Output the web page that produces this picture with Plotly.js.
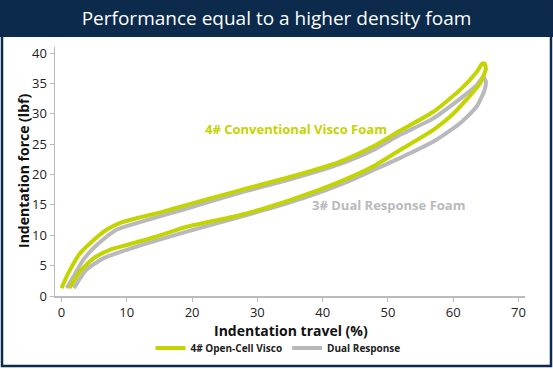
<!DOCTYPE html>
<html>
<head>
<meta charset="utf-8">
<script src="https://cdn.plot.ly/plotly-3.0.1.min.js"></script>
<style>html,body{margin:0;padding:0;background:#fff;}#chart{width:553px;height:369px;}</style>
</head>
<body>
<div id="chart"></div>
<script>
// Data
const viscoTravel = [0.0, 0.6, 1.3, 2.8, 4.9, 6.9, 8.9, 11.5, 15.6, 19.2, 27.3, 35.0, 42.6, 47.7, 51.8, 56.9, 61.0, 63.6, 64.4, 64.8, 65.0, 64.8, 64.1, 62.0, 59.5, 56.9, 51.8, 47.7, 42.6, 35.0, 27.3, 19.2, 14.6, 10.0, 7.4, 4.9, 2.8, 1.2];
const viscoForce  = [1.3, 2.8, 4.3, 7.0, 9.2, 10.9, 12.0, 12.8, 13.9, 15.0, 17.4, 19.6, 22.1, 24.6, 27.2, 30.3, 33.9, 36.9, 38.2, 38.3, 37.4, 36.7, 35.0, 32.3, 29.5, 27.3, 24.0, 21.3, 18.8, 15.8, 13.3, 11.4, 9.8, 8.4, 7.6, 6.2, 4.0, 1.3];
const dualTravel = [0.8, 2.0, 3.3, 5.4, 8.4, 11.5, 18.6, 27.3, 35.0, 42.6, 47.7, 51.8, 56.9, 60.5, 63.6, 64.6, 65.0, 64.8, 63.6, 61.0, 56.9, 51.8, 47.7, 42.6, 35.0, 27.3, 19.2, 10.0, 6.4, 3.8, 1.9];
const dualForce  = [1.3, 3.5, 5.9, 8.4, 10.9, 12.0, 14.2, 17.0, 19.2, 21.7, 24.0, 26.5, 29.2, 32.0, 34.7, 36.1, 35.3, 33.9, 31.2, 28.4, 25.4, 22.7, 20.7, 18.3, 15.4, 13.0, 10.6, 7.6, 6.2, 4.3, 1.3];
const seriesNames = ["4# Open-Cell Visco", "Dual Response"];
const xTicks = [0, 10, 20, 30, 40, 50, 60, 70];
const yTicks = [0, 5, 10, 15, 20, 25, 30, 35, 40];
const xTitle = "Indentation travel (%)";
const yTitle = "Indentation force (lbf)";
const labelVisco = "4# Conventional Visco Foam";
const labelDual = "3# Dual Response Foam";

const GREEN = "#c3d400", GRAY = "#b9b9bd", NAVY = "#0c2a4b";
const W = 553, H = 369, M = {l: 55, r: 28, t: 47, b: 73};
const pw = W - M.l - M.r, ph = H - M.t - M.b;
const fx = px => (px - M.l) / pw;
const fy = py => (H - M.b - py) / ph;
const FONT = "Open Sans, Lato, sans-serif";

const traces = [
  {x: dualTravel, y: dualForce, name: seriesNames[1], mode: "lines", line: {color: GRAY, width: 4, shape: "spline", smoothing: 0.6}},
  {x: viscoTravel, y: viscoForce, name: seriesNames[0], mode: "lines", line: {color: GREEN, width: 4, shape: "spline", smoothing: 0.6}}
];

const layout = {
  width: W, height: H,
  margin: M,
  paper_bgcolor: "#fff", plot_bgcolor: "#fff",
  font: {family: FONT, color: "#222"},
  title: {text: "Performance equal to a higher density foam", font: {family: FONT, size: 19, color: "#fff"}, x: 0.5, xref: "container", xanchor: "center", y: 1 - 18.5 / H, yref: "container", yanchor: "middle"},
  showlegend: true,
  legend: {orientation: "h", traceorder: "reversed", xref: "container", x: 278 / W, xanchor: "center", yref: "container", y: 1 - 348 / H, yanchor: "middle", font: {family: FONT, size: 10, color: "#222", weight: "bold"}, itemwidth: 30, bgcolor: "rgba(0,0,0,0)"},
  xaxis: {range: [-1, 71], tickvals: xTicks, ticks: "outside", ticklen: 4, tickcolor: "#bbb", showline: true, linecolor: "#bbb", linewidth: 1.5, showgrid: false, zeroline: false, automargin: false,
    tickfont: {size: 13, color: "#222"}},
  yaxis: {range: [0, 41], tickvals: yTicks, ticks: "outside", ticklen: 4, tickcolor: "#bbb", showline: true, linecolor: "#bbb", linewidth: 1.5, showgrid: false, zeroline: false, automargin: false,
    tickfont: {size: 13, color: "#222"}},
  shapes: [
    {type: "rect", xref: "paper", yref: "paper", x0: fx(0), x1: fx(W), y0: fy(37), y1: fy(0), fillcolor: NAVY, line: {width: 0}, layer: "below"},
    {type: "rect", xref: "paper", yref: "paper", x0: fx(2), x1: fx(551), y0: fy(366), y1: fy(2), fillcolor: "rgba(0,0,0,0)", line: {color: NAVY, width: 2.5}, layer: "above"}
  ],
  annotations: [
    {x: fx(291), y: fy(330), xref: "paper", yref: "paper", text: xTitle, showarrow: false, xanchor: "center", yanchor: "middle", font: {size: 14, color: "#111", weight: "bold"}},
    {x: fx(23), y: fy(171), xref: "paper", yref: "paper", text: yTitle, showarrow: false, textangle: -90, xanchor: "center", yanchor: "middle", font: {size: 14, color: "#111", weight: "bold"}},
    {x: 35.9, y: 27.5, xref: "x", yref: "y", text: labelVisco, showarrow: false, font: {size: 13, color: GREEN, weight: "bold"}},
    {x: 50.1, y: 15.0, xref: "x", yref: "y", text: labelDual, showarrow: false, font: {size: 13, color: GRAY, weight: "bold"}}
  ]
};

Plotly.newPlot("chart", traces, layout, {displayModeBar: false, staticPlot: true});
</script>
</body>
</html>
